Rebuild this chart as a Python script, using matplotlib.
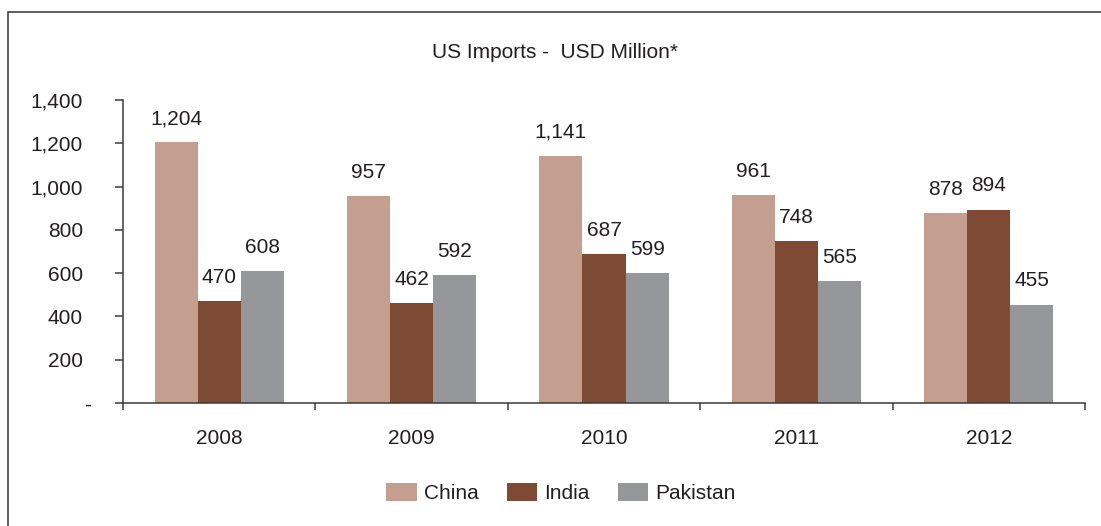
import matplotlib

matplotlib.use("Agg")
import matplotlib.pyplot as plt
from matplotlib.patches import Rectangle
from matplotlib.ticker import FuncFormatter
from matplotlib.transforms import ScaledTranslation

years = ["2008", "2009", "2010", "2011", "2012"]
series = ["China", "India", "Pakistan"]
china = [1204, 957, 1141, 961, 878]
india = [470, 462, 687, 748, 894]
pakistan = [608, 592, 599, 565, 455]
colors = ["#C49E8F", "#7F4A33", "#96979B"]
yticks = [0, 200, 400, 600, 800, 1000, 1200, 1400]

plt.rcParams["font.family"] = ["Liberation Sans", "DejaVu Sans"]
text_color = "#231F20"
axis_color = "#3A3A3A"
fs = 15

fig = plt.figure(figsize=(11.01, 5.26), dpi=100)
ax = fig.add_axes([123 / 1101, 1 - 403 / 526, (1085 - 123) / 1101, 303 / 526])

# outer frame (runs off the right and bottom edges in the reference)
fig.patches.append(Rectangle((8 / 1101, -0.1), 1.2, 1 - 12 / 526 + 0.1,
                             transform=fig.transFigure, fill=False,
                             edgecolor="#333333", linewidth=1.1))

w = 0.224
x = list(range(len(years)))
for j, (name, vals) in enumerate(zip(series, [china, india, pakistan])):
    pos = [i + (j - 1) * w for i in x]
    bars = ax.bar(pos, vals, width=w, color=colors[j], label=name, linewidth=0)
    for b, v in zip(bars, vals):
        ax.annotate(f"{v:,}", (b.get_x() + b.get_width() / 2, v),
                    xytext=(0, 13), textcoords="offset points",
                    ha="center", va="baseline", fontsize=fs, color=text_color)

ax.set_xlim(-0.5, len(years) - 0.5)
ax.set_ylim(0, 1400)
ax.set_yticks(yticks)
ax.yaxis.set_major_formatter(FuncFormatter(lambda v, p: "-" if v == 0 else f"{int(v):,}"))
ax.set_xticks(x)
ax.set_xticklabels(years)
ax.set_xticks([i - 0.5 for i in range(len(years) + 1)], minor=True)

for s in ["top", "right"]:
    ax.spines[s].set_visible(False)
for s in ["left", "bottom"]:
    ax.spines[s].set_color(axis_color)
    ax.spines[s].set_linewidth(1.1)

ax.tick_params(axis="y", length=5.8, width=1.1, color=axis_color, pad=23,
               labelsize=fs, labelcolor=text_color)
ax.tick_params(axis="x", which="major", length=0, pad=19,
               labelsize=fs, labelcolor=text_color)
ax.tick_params(axis="x", which="minor", length=5, width=1.1, color=axis_color)

# the zero dash sits a little to the right of the numbers (accounting format)
fig.canvas.draw()
zero_lbl = ax.get_yticklabels()[0]
zero_lbl.set_transform(zero_lbl.get_transform() + ScaledTranslation(8 / 100, 0, fig.dpi_scale_trans))

fig.text(555 / 1101, 1 - 53 / 526, "US Imports -  USD Million*", ha="center",
         va="center", fontsize=fs, color=text_color)

leg = fig.legend(loc="center", bbox_to_anchor=(561 / 1101, 1 - 493 / 526),
                 ncol=3, frameon=False, fontsize=fs, handlelength=1.47,
                 handleheight=0.95, handletextpad=0.35, columnspacing=1.33)
for t in leg.get_texts():
    t.set_color(text_color)

fig.savefig("out.png", dpi=100)
